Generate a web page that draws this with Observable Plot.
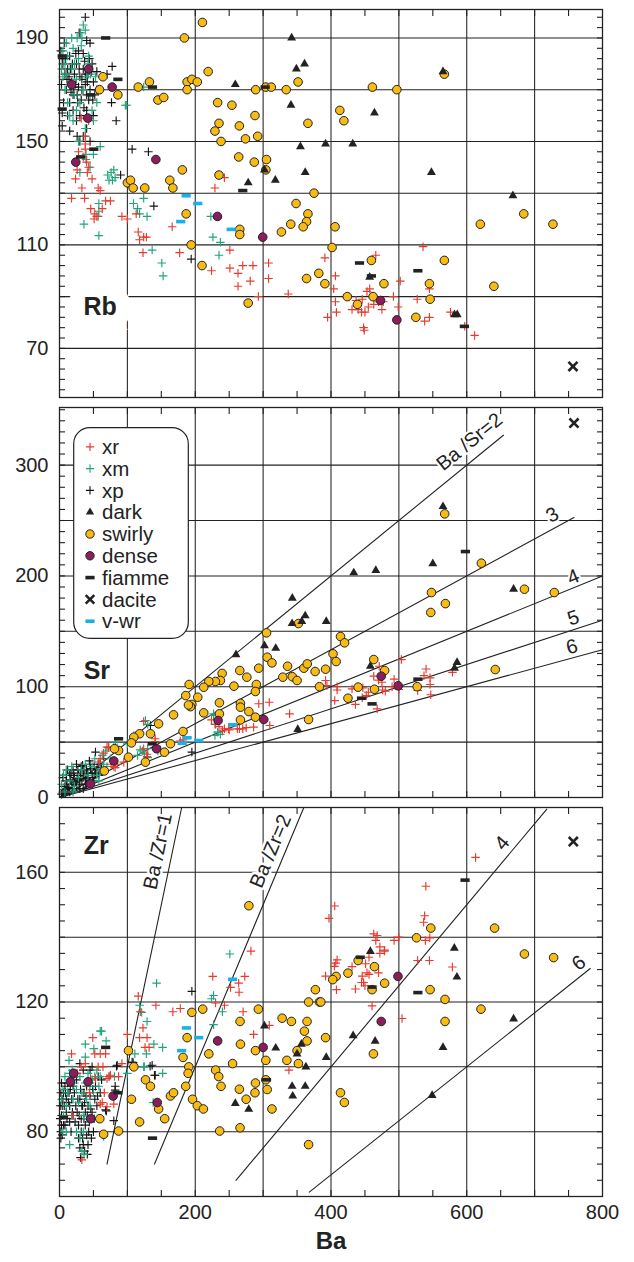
<!DOCTYPE html>
<html><head><meta charset="utf-8">
<script src="https://cdn.jsdelivr.net/npm/d3@7"></script>
<script src="https://cdn.jsdelivr.net/npm/@observablehq/plot@0.6"></script>
<style>
body{margin:0;background:#fff;}
#chart{position:relative;width:634px;height:1262px;}
#chart > svg{display:block;}
#legend{position:absolute;left:73px;top:427px;}
</style></head><body><div id="chart"></div>
<script>
// ---------- DATA (Ba vs Rb) ----------
const rbXp = [[38,198],[29,192],[40,189],[77.6,179],[70,176],[76.6,165],[83.5,158],[107,147],[131,146],[90,137],[139,125],[194,104.5],[4,156],[15,154],[26,152],[4,161],[4,182],
[2,185],[5,180],[8,176],[10,170],[12,178],[15,183],[18,173],[20,168],[22,176],[25,180],[28,171],[30,175],[32,166],[35,178],[38,172],[40,168],[42,176],[45,170],[48,180],[50,173],[55,177],[15,165],[20,162],[25,158],[30,160],[40,162],[45,150],[35,152],[12,160],[6,165],[28,185],[35,184],[45,188],[30,150],[40,155],[50,160],[55,170],
[3,172],[7,188],[9,182],[14,175],[17,169],[19,180],[23,172],[27,165],[29,178],[33,170],[36,163],[37,181],[41,173],[43,166],[47,177],[52,168],[11,174],[16,178],[24,184],[33,174],[38,176],[26,168],[21,171],[44,182],[49,166]];
const rbXm = [[31,192],[35,195],[33,190],[38,193],[43,183],[45.6,176],[53,175],[97,164],[124,171],[48,162],[38,155],[38,152],[60,148],[39,145],[39,143],[71,137],[76,138],[80,139],[73,135],[82,136],[78,135],[141,143],[124,128],[109,126],[115,124],[118,122],[129,121],[58,126],[58,123],[57,121],[36,118],[58,113.6],[136.5,108],[150.7,103],[152.7,98],[99,164],[223,121],[226,113],[237,111],[235,106],
[5,185],[8,180],[10,176],[12,183],[15,172],[18,178],[20,186],[22,168],[25,174],[28,182],[30,165],[12,165],[8,170],[5,175],[15,160],[20,158],[25,162],[35,170],[40,175],[42,180],[32,187],[26,190],[10,188],[3,178],[18,190],[22,180],[45,168],[50,158],[55,165],[28,150],[45,140],[30,138],[50,145]];
const rbXr = [[17.7,128],[32,159],[43,158],[38,152],[38,149],[38,147],[43,140],[41,138],[26,139],[23.6,135.5],[48,135.5],[57,132],[60,131],[33,132],[37,128],[68,127],[75,127],[46,124],[52,122],[55,121],[63,124],[51,120],[92,121],[100,120],[113,122],[116,115],[118,112],[124,113],[128,113],[123,107],[166,117],[177,107],[224,100],[243,136],[229,132],[251,108],[251,101],[263,99],[263,94],[270,102],[285,102],[281,96],[293,90],[308,103],[308,97],[337,91],[35,144],[40,142],[28,146],
[391,105],[535.6,109.3],[466,106],[406.5,98],[502,96],[404,93],[457,93],[453,92],[406.5,88],[408,84],[395,82],[431,85],[437,88.5],[446,89],[440,85],[450,84],[455,86],[445,84],[463,87],[470,88],[475,85],[477,88],[492,90],[499,86],[527,89],[545,93],[545,82],[538,80.5],[576,84],[597,78.5],[611.6,75],[448,78],[449,77]];
const rbSwirly = [[210.6,196],[184,190],[64,175],[59,170],[86,168],[116,171],[132.5,173],[145,166],[153.6,167],[188,173],[195,174],[203,173],[188,170],[219,177],[233,165],[254,164],[288,160],[235,157],[229,154],[265,156],[274,151],[292,152],[238,150],[264,144],[287,142],[305,143],[304,139],[181,139],[235,137],[162.5,135],[167,132],[125.6,132],[100,134],[104.6,135],[108.5,132],[289,170],[304,171],[312,171],[334,170],[351.5,173],[366,157],[375,130],[348.5,126],[366,122],[364,119],[359,117],[340.7,118],[327,115],[265.6,116],[265.6,114],[186.6,122],[194,110],[210,102],[278,87.5],[364,97],[382,99],
[567,176],[461,171],[497,170],[413,162],[419,158],[406,117],[401.6,109],[620,118],[684,122],[727,118],[459.5,104],[567,104],[391,95],[424,90],[439,87],[462,90],[478,95],[545,95],[546,89],[525,82],[640,94]];
const rbDense = [[77.6,171],[41.7,159],[24,142],[142,143],[232.7,121],[299.4,113],[497,81],[473,88.5],[43,178],[18,172]];
const rbDark = [[342,190],[349,178],[361,180],[259,172],[341,164],[355,148],[362,138],[278,134],[318,135],[302,139],[464,161],[392,149],[432,149],[548,138],[668,129],[565,177],[457,97.5],[582,83],[586,83]];
const rbFiamme = [[68,190],[86,174],[137,171],[45.6,168],[50.5,147],[31,144],[270,131],[303,171],[4,183],[4,162.5],[442,103],[459.5,98],[528,100],[596.5,78.5]];
const rbDacite = [[756.5,63]];
const rbVwr = [[186.6,129],[203.7,126],[178.6,119],[253,116]];

// ---------- DATA (Ba vs Sr) ----------
const srXp = [[53,41],[134,65],[195,41],[80,45],
[5,5],[8,10],[10,15],[12,8],[15,20],[18,12],[20,25],[22,18],[25,10],[28,22],[30,15],[32,28],[35,20],[38,12],[40,25],[42,18],[45,30],[48,22],[50,15],[55,25],[12,25],[5,18],[25,30],[35,8],[60,30],[65,35],[15,5],[30,8],[45,15],[52,20],[40,12],[20,15],
[3,3],[7,7],[9,4],[11,12],[14,9],[16,16],[19,8],[21,20],[24,14],[26,17],[29,12],[31,20],[33,16],[36,24],[39,17],[41,22],[43,13],[46,26],[49,18],[51,28],[53,22],[57,30],[62,27],[27,25],[17,22],[10,20],[34,29],[44,33],[58,20]];
const srXm = [[126.6,69.5],[130,66],[113,56],[100,48.5],[119,43],[130,44],[145,42],[149,43],[115,38],[125,40],[130,36],[227,74],[237,57],[229,66],[82.5,50],[72,45],[63,38],[68,42],[122,42],[156,41],[227,75.5],[229,56],[233,59],[109.5,56],
[3,12],[6,20],[10,25],[15,15],[18,28],[22,10],[28,18],[32,25],[38,30],[42,20],[48,28],[52,35],[55,20],[60,25],[65,30],[70,28],[75,35],[8,5],[20,5],[45,12],[58,15],[85,45]];
const srXr = [[309,86],[293.6,84.6],[339,75.5],[309.8,65],[286,63.5],[275,63],[265,62],[250,61],[243,62],[235,64],[230,66],[224,70],[178,51],[124,44],[129,37],[129,39],[94.7,31.9],[70,45.4],[60,35],[65,40],[58,32],[80,28],[85,30],[141,50.5],[124,68.6],[141,53],[72.6,45.4],[76,30],[82,27],[182,52],[262,62],[270,62],[240,60],[249,62],
[503.7,124.5],[471,118.5],[463,109.5],[392,105.6],[394,101],[409,100],[409,97],[405.5,87.5],[436,84],[431,98],[440,100],[447,99],[455,95],[452,92],[446,90],[475,104],[470,106],[490,100],[480,96],[493,106.8],[500,97.5],[468,80],[540,116],[537,110],[546,108],[546,102],[547,92.7],[527.7,96.6],[579,113],[476,97]];
const srSwirly = [[305,148.6],[306,126.6],[313,121.5],[336,118.5],[360,116.7],[365,120.6],[376.6,113.7],[329,108.6],[343,109],[350,105.6],[352,157],[293.5,116.7],[290,102],[288.6,95.7],[276,108.6],[265.6,114.6],[257,100.5],[239.6,112],[237,105.6],[229.7,104.7],[220,104.7],[212.5,99.5],[191,102],[186,92],[203.7,90.5],[195,84],[193,82],[190,83.5],[168,74.6],[146,66.5],[134,57.5],[118,57.5],[109.5,54.4],[106,49.3],[101.6,36.4],[126.6,31.9],[163.5,48.5],[182,59.6],[154.6,40.9],[212.5,76.4],[235.6,85.5],[235.6,75.5],[266.6,85],[266.6,81.5],[266.6,70],[279,77.6],[288.6,72.5],[367,70.4],[383,100],[87,42.4],[66,24],[81,44],
[567.5,256],[621.5,211.5],[685,188],[729,185],[548,185],[547,167],[568.5,175],[414,145.3],[420,139.6],[403,129.7],[407.5,122.7],[392,115.8],[425,89.6],[440,99.6],[463,124.5],[464,97.7],[479,114.6],[527,100],[642,115.5]];
const srDense = [[233.7,69.5],[301,70.4],[143,44],[80,33],[474,109.5],[499,100.8],[45.6,12.3]];
const srDark = [[260,129],[302,137],[318.6,134.7],[343,180],[342.7,157],[362,164],[357,159],[351,61.4],[565,262.6],[433.5,202.8],[466,205],[550,211],[669,188],[393,159],[458,118.5],[585.7,122],[582,116.7]];
const srFiamme = [[87,53],[136.5,48.5],[598,222],[445,89.6],[460.5,84.5],[528,106.8]];
const srDacite = [[758,338]];
const srVwr = [[180.7,49],[188,53.9],[205,51.4],[255,65.6]];
const srRatios = [2, 3, 4, 5, 6];
const srRatioEnd = [654, 758, 800, 800, 800];
const srRatioLabels = [
  {text: "Ba /Sr=2", k: 2, Ba: 604, Sr: 321},
  {text: "3", k: 3, Ba: 726, Sr: 255},
  {text: "4", k: 4, Ba: 757, Sr: 199},
  {text: "5", k: 5, Ba: 757, Sr: 162},
  {text: "6", k: 6, Ba: 755, Sr: 136}
];

// ---------- DATA (Ba vs Zr) ----------
const zrXp = [[195,123.3],[140,97.4],[133.5,100.2],[108.5,101.3],[84,100.2],[69,86.4],[80,83.4],[82,94],[82,92.8],[85,100.5],[107,101.5],[136.5,100.5],[141,97.4],[68,86.7],
[2,78],[2,80],[3,82],[3,85],[4,88],[5,90],[6,92],[8,94],[10,90],[12,95],[14,92],[15,88],[18,90],[20,94],[22,92],[24,88],[25,96],[26,86],[28,82],[28,78],[30,90],[30,75],[32,84],[32,80],[34,88],[35,76],[36,92],[38,82],[38,86],[40,79],[40,94],[42,88],[42,76],[44,83],[45,91],[48,86],[50,80],[52,90],[55,88],[60,92],[62,96],[58,84],[45,99],[48,100],[35,99],[30,101],[20,85],[15,83],[10,86],[8,82],
[1,84],[1,88],[2,92],[3,95],[4,79],[6,82],[7,88],[9,92],[11,84],[13,89],[16,93],[17,80],[19,86],[21,97],[23,83],[27,90],[29,85],[31,93],[33,88],[34,78],[36,84],[37,89],[39,91],[41,85],[43,80],[44,95],[46,87],[47,78],[49,93],[51,84],[53,94],[56,91],[57,97],[31,72],[37,74],[41,73]];
const zrXm = [[251,134.8],[143,125.8],[224,121],[227,122],[240,117],[227,113],[118,119],[121,116.8],[129,114],[111,104],[128,104],[139,107],[152,106],[124,100],[100,98],[152,98],[138,89],[60,111],[62,111],[68.7,108],[38,107],[38,103],[50.6,105.6],[14,102],[18.7,99],[60,97],[73,97],[81,97],[65,78.5],[33,74],[125,100],
[3,90],[5,93],[6,85],[8,97],[10,88],[12,92],[15,98],[18,85],[20,90],[22,95],[25,93],[28,89],[30,97],[33,92],[35,85],[38,95],[40,90],[42,98],[45,94],[48,96],[50,92],[52,97],[55,99],[58,94],[25,80],[30,78],[35,80],[40,84],[45,88],[10,80],[5,80],[15,76],[36,73]];
const zrXr = [[282,135.7],[225.8,127.9],[273,127.9],[264,125.8],[252,124.5],[264.6,123],[230,119.7],[243,119],[270.5,117],[286,110],[309,112.8],[338,99],[116,121.8],[119,117],[123,112],[142,119],[167,117],[178,118],[100,110],[118,109],[129,109],[126,106],[132,106],[49,109],[57,100],[52,104],[60,104],[68,104],[73,97],[87,97],[80,88.5],[92,101],[17.7,104],[33,71.3],[26,98],[32,100],[38,101],[45.6,96.4],[60,88.5],[64,100],[75,97.4],[53,96.4],[70,96.4],[44,92],[66,92],[70,87.7],[18.7,85],[63,89],
[613,164.6],[539.7,155.7],[405.5,149.6],[397,145.8],[538,146.6],[545.6,139.8],[545,132.8],[527.6,132.8],[578.8,130.8],[460.5,118.8],[504.7,114.9],[463,141],[466,139],[472,137],[472,135],[479,136],[468,140.5],[493,139],[500,140],[405,131],[409,133],[407,132],[392,128],[431,130.9],[446,128],[453,129],[456,128.5],[470,129],[436,124],[448,126],[450,125],[445,126],[408,123.8],[456,133.8],[451,131.8],[536.5,144.6],[539,139],[478.6,135.7]];
const zrSwirly = [[279,149.7],[101.6,105],[109.5,100],[126.7,96],[134,94],[106,90],[118,83],[87,80.2],[65,79.2],[59.4,84],[146,87],[155,84],[163.5,91],[168,92],[182,102.9],[186,94],[188,109],[190.5,100],[189.5,98],[195,116.8],[211,117.8],[196,90],[203,88],[212,87],[220,104],[230,99],[234.6,97],[238,94],[236,80.2],[255,101],[266,114],[266.6,107],[265,93.1],[266,81.2],[275,90],[288.7,105],[288.7,95],[288,92],[293,117.8],[304,102],[304,96],[306,93],[313,87],[328,115],[341.7,114],[335,102],[350,105],[352,101],[360.8,111],[364.7,114],[364.7,108],[367,120],[377,123.8],[383,120],[367,76],
[547,142.8],[641,142.8],[526,139.8],[685,134.8],[728,133.7],[425,128.9],[440,132.8],[464,130.9],[479,125.8],[407.5,127.9],[402.6,126.9],[385,120],[460.5,123.8],[546,123.8],[568,120.8],[621,117.8],[568,114],[392,109],[462.5,104],[414,92],[419.7,89]];
const zrDense = [[79,91],[144,89],[233,108],[300,106],[498.7,127.9],[474,114],[16,95.4],[21,98],[42,95.4],[46,84]];
const zrDark = [[302,112.6],[318.6,105.8],[259,88.7],[278.8,86.9],[342.7,94],[343.6,91],[362,94],[350,104],[356.4,107],[363,100],[458,135.6],[581.7,136.6],[585.5,127.7],[465,107.9],[432.6,109.6],[393,102.9],[565,106],[669,114.8],[549,91.2]];
const zrFiamme = [[68,106],[86,92],[137,78],[6,84.4],[305,96],[597.5,157.6],[443,133.8],[460.5,124.6],[528,122.9]];
const zrDacite = [[757,169.5]];
const zrVwr = [[187,112],[205,109],[180,105],[255,127]];
const zrRatios = [1, 2, 4, 6];
const zrRatioStart = [70, 140, 260, 368];
const zrRatioEnd = [180, 360, 718, 782];
const zrRatioLabels = [
  {text: "Ba /Zr=1", k: 1, Ba: 145, Zr: 166.5},
  {text: "Ba /Zr=2", k: 2, Ba: 311, Zr: 166.5},
  {text: "4", k: 4, Ba: 652, Zr: 169},
  {text: "6", k: 6, Ba: 765, Zr: 132}
];

// ---------- axis ticks ----------
const xTickLabels = [0, 200, 400, 600, 800];
const xGrid = [100, 200, 300, 400, 500, 600, 700];
const xMinor = d3.range(50, 800, 50);
const rbLabels = [70, 110, 150, 190], rbGrid = [70, 90, 110, 130, 150, 170, 190], rbMinor = d3.range(54, 200, 4);
const srLabels = [0, 100, 200, 300], srGrid = [50, 100, 150, 200, 250, 300], srMinor = d3.range(10, 351, 10);
const zrLabels = [80, 120, 160], zrGrid = [80, 100, 120, 140, 160], zrMinor = d3.range(65, 180, 5);
const legendNames = ["xr", "xm", "xp", "dark", "swirly", "dense", "fiamme", "dacite", "v-wr"];

// ---------- STYLE ----------
const FONT = "'Liberation Sans', Arial, Helvetica, sans-serif";
const INK = "#222";
const COL = {xr: "#e63b2e", xm: "#1fa57e", xp: "#161616", swirly: "#f8bb14", dense: "#8c1d5c", vwr: "#17b2ea"};
const barSym = {draw(ctx) { ctx.rect(-4.6, -1.8, 9.2, 3.6); }};
const W = 634, ML = 59, MR = 32;
const pxPerBa = (W - ML - MR) / 800;
const CROSS_R = 2.85;

function seriesMarks(s) {
  const X = d => d[0], Y = d => d[1];
  return [
    Plot.dot(s.xp, {x: X, y: Y, symbol: "plus", r: CROSS_R, stroke: COL.xp, strokeWidth: 1.15}),
    Plot.dot(s.xm, {x: X, y: Y, symbol: "plus", r: CROSS_R, stroke: COL.xm, strokeWidth: 1.15}),
    Plot.dot(s.xr, {x: X, y: Y, symbol: "plus", r: CROSS_R, stroke: COL.xr, strokeWidth: 1.15}),
    Plot.dot(s.swirly, {x: X, y: Y, r: 4.3, fill: COL.swirly, stroke: INK, strokeWidth: 1}),
    Plot.dot(s.dense, {x: X, y: Y, r: 4.3, fill: COL.dense, stroke: INK, strokeWidth: 1}),
    Plot.dot(s.dark, {x: X, y: Y, symbol: "triangle", r: 3.3, fill: INK, stroke: "none"}),
    Plot.dot(s.fiamme, {x: X, y: Y, symbol: barSym, r: 3, fill: INK, stroke: "none"}),
    Plot.dot(s.vwr, {x: X, y: Y, symbol: barSym, r: 3, fill: COL.vwr, stroke: "none"}),
    Plot.dot(s.dacite, {x: X, y: Y, symbol: "times", r: 4.2, stroke: INK, strokeWidth: 2.6})
  ];
}

function panel({yDomain, height, marginTop, marginBottom, grid, minor, labels, series, extra = [], bottomAxis = false}) {
  return Plot.plot({
    width: W, height, marginLeft: ML, marginRight: MR, marginTop, marginBottom,
    x: {domain: [0, 800]},
    y: {domain: yDomain},
    style: {fontFamily: FONT, fontSize: "20px", color: INK, background: "white", overflow: "visible"},
    marks: [
      Plot.gridX(xGrid, {stroke: INK, strokeOpacity: 1, strokeWidth: 1.05}),
      Plot.gridY(grid, {stroke: INK, strokeOpacity: 1, strokeWidth: 1.05}),
      Plot.axisX(xMinor, {anchor: "top", tickSize: -6, tickFormat: () => "", label: null, stroke: INK, strokeWidth: 1.1}),
      Plot.axisX(xMinor, {anchor: "bottom", tickSize: -6, tickFormat: () => "", label: null, stroke: INK, strokeWidth: 1.1}),
      Plot.axisY(minor, {anchor: "left", tickSize: -6, tickFormat: () => "", label: null, stroke: INK, strokeWidth: 1.1}),
      Plot.axisY(minor, {anchor: "right", tickSize: -6, tickFormat: () => "", label: null, stroke: INK, strokeWidth: 1.1}),
      Plot.axisY(labels, {anchor: "left", tickSize: 0, tickPadding: 11, label: null, fontSize: 20, fill: INK}),
      bottomAxis ? Plot.axisX(xTickLabels, {anchor: "bottom", tickSize: 0, tickPadding: 8, label: null, fontSize: 20, fill: INK}) : null,
      ...extra,
      ...seriesMarks(series),
      Plot.frame({stroke: INK, strokeWidth: 1.3})
    ]
  });
}

const root = document.getElementById("chart");

// Panel 1: Rb
root.append(panel({
  yDomain: [51, 201], height: 402, marginTop: 9, marginBottom: 5,
  grid: rbGrid, minor: rbMinor, labels: rbLabels,
  series: {xp: rbXp, xm: rbXm, xr: rbXr, swirly: rbSwirly, dense: rbDense, dark: rbDark, fiamme: rbFiamme, vwr: rbVwr, dacite: rbDacite},
  extra: [
    Plot.text(["Rb"], {x: 60, y: 86, text: d => d, fontSize: 25, fontWeight: "bold", fill: INK, stroke: "white", strokeWidth: 30, strokeLinejoin: "miter", paintOrder: "stroke"})
  ]
}));

// Panel 2: Sr
const srPxPerUnit = 390 / 352;
const srLines = srRatios.flatMap((k, i) => [{Ba: 0, Sr: 0, k}, {Ba: srRatioEnd[i], Sr: srRatioEnd[i] / k, k}]);
root.append(panel({
  yDomain: [0, 352], height: 400, marginTop: 5, marginBottom: 5,
  grid: srGrid, minor: srMinor, labels: srLabels,
  series: {xp: srXp, xm: srXm, xr: srXr, swirly: srSwirly, dense: srDense, dark: srDark, fiamme: srFiamme, vwr: srVwr, dacite: srDacite},
  extra: [
    Plot.line(srLines, {x: "Ba", y: "Sr", z: "k", stroke: INK, strokeWidth: 1.1}),
    Plot.text(srRatioLabels, {x: "Ba", y: "Sr", text: "text", rotate: d => -Math.atan((1 / d.k) * srPxPerUnit / pxPerBa) * 180 / Math.PI, fontSize: 20, fill: INK, stroke: "white", strokeWidth: 4, paintOrder: "stroke"}),
    Plot.text(["Sr"], {x: 55, y: 114, text: d => d, fontSize: 25, fontWeight: "bold", fill: INK})
  ]
}));

// Panel 3: Zr
const zrPxPerUnit = 389 / 120;
const zrLines = zrRatios.flatMap((k, i) => [{Ba: zrRatioStart[i], Zr: zrRatioStart[i] / k, k}, {Ba: zrRatioEnd[i], Zr: zrRatioEnd[i] / k, k}]);
root.append(panel({
  yDomain: [60, 180], height: 460, marginTop: 5, marginBottom: 66,
  grid: zrGrid, minor: zrMinor, labels: zrLabels, bottomAxis: true,
  series: {xp: zrXp, xm: zrXm, xr: zrXr, swirly: zrSwirly, dense: zrDense, dark: zrDark, fiamme: zrFiamme, vwr: zrVwr, dacite: zrDacite},
  extra: [
    Plot.line(zrLines, {x: "Ba", y: "Zr", z: "k", stroke: INK, strokeWidth: 1.1}),
    Plot.text(zrRatioLabels, {x: "Ba", y: "Zr", text: "text", rotate: d => -Math.atan((1 / d.k) * zrPxPerUnit / pxPerBa) * 180 / Math.PI, fontSize: 20, fill: INK, stroke: "white", strokeWidth: 5, paintOrder: "stroke"}),
    Plot.text(["Zr"], {x: 54, y: 168, text: d => d, fontSize: 25, fontWeight: "bold", fill: INK}),
    Plot.text(["Ba"], {frameAnchor: "bottom", dy: 52, text: d => d, fontSize: 24, fontWeight: "bold", fill: INK})
  ]
}));

// Legend (overlay box in the Sr panel)
const lg = d3.select(root).append("svg").attr("id", "legend")
  .attr("width", 117).attr("height", 213)
  .style("font-family", FONT).style("font-size", "20.5px");
lg.append("rect").attr("x", 0.7).attr("y", 0.7).attr("width", 114.6).attr("height", 210.6)
  .attr("rx", 16).attr("fill", "white").attr("stroke", INK).attr("stroke-width", 1.2);
const symPath = (type, size) => d3.symbol().type(type).size(size)();
legendNames.forEach((name, i) => {
  const cy = 19.8 + i * 21.8;
  const g = lg.append("g").attr("transform", `translate(17,${cy})`);
  if (name === "xr" || name === "xm" || name === "xp") {
    g.append("path").attr("d", symPath(d3.symbolPlus, 24)).attr("fill", "none")
      .attr("stroke", COL[name]).attr("stroke-width", 1.15);
  } else if (name === "dark") {
    g.append("path").attr("d", symPath(d3.symbolTriangle, 30)).attr("fill", INK);
  } else if (name === "swirly" || name === "dense") {
    g.append("circle").attr("r", 4.2).attr("fill", COL[name]).attr("stroke", INK).attr("stroke-width", 1);
  } else if (name === "fiamme" || name === "v-wr") {
    g.append("rect").attr("x", -4.6).attr("y", -1.8).attr("width", 9.2).attr("height", 3.6)
      .attr("fill", name === "fiamme" ? INK : COL.vwr);
  } else if (name === "dacite") {
    g.append("path").attr("d", symPath(d3.symbolTimes, 50)).attr("fill", "none")
      .attr("stroke", INK).attr("stroke-width", 2.6);
  }
  lg.append("text").attr("x", 29).attr("y", cy).attr("dy", "0.35em").attr("fill", INK).text(name);
});
</script></body></html>
